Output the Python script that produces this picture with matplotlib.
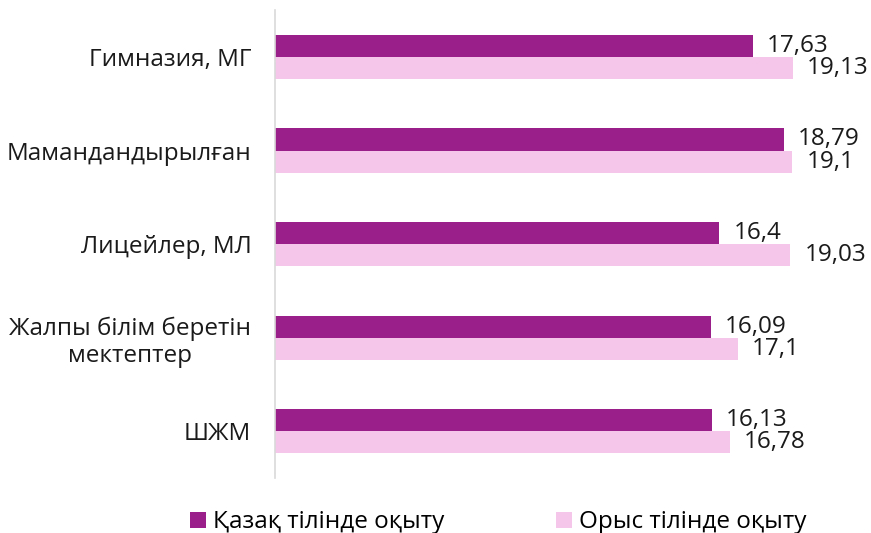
import numpy as np
import matplotlib
matplotlib.use("Agg")
import matplotlib.pyplot as plt

plt.rcParams['font.family'] = ['Open Sans', 'DejaVu Sans']

categories = ['Гимназия, МГ', 'Мамандандырылған', 'Лицейлер, МЛ',
              'Жалпы білім беретін\nмектептер', 'ШЖМ']
kazakh = [17.63, 18.79, 16.4, 16.09, 16.13]
russian = [19.13, 19.1, 19.03, 17.1, 16.78]
kazakh_labels = ['17,63', '18,79', '16,4', '16,09', '16,13']
russian_labels = ['19,13', '19,1', '19,03', '17,1', '16,78']
series_names = ['Қазақ тілінде оқыту', 'Орыс тілінде оқыту']

dark = '#9B1F8A'
light = '#F5C5EA'
fs = 17.5

fig = plt.figure(figsize=(8.71, 5.33), dpi=100)
ax = fig.add_axes([0.3157, 0.103, 0.622, 0.878])

y = np.arange(len(categories))
h = 0.236
b1 = ax.barh(y - h / 2, kazakh, height=h, color=dark, label=series_names[0])
b2 = ax.barh(y + h / 2, russian, height=h, color=light, label=series_names[1])

# value labels
for bars, labels in ((b1, kazakh_labels), (b2, russian_labels)):
    for bar, lab in zip(bars, labels):
        ax.text(bar.get_width() + 0.52, bar.get_y() + bar.get_height() / 2, lab,
                va='center', ha='left', fontsize=fs, color='#1a1a1a')

ax.set_xlim(0, 20)
ax.set_ylim(len(categories) - 0.5, -0.5)
ax.set_yticks(y)
ax.set_yticklabels(categories, fontsize=fs, color='#1a1a1a', multialignment='center')
ax.tick_params(axis='y', length=0, pad=17)
ax.set_xticks([])

for side in ('top', 'right', 'bottom'):
    ax.spines[side].set_visible(False)
ax.spines['left'].set_color('#D9D9D9')
ax.spines['left'].set_linewidth(1.2)

fig.legend(handles=[b1, b2], labels=series_names, loc='center',
           bbox_to_anchor=(0.572, 0.02), ncol=2, frameon=False, fontsize=fs,
           handlelength=0.65, handleheight=0.65, handletextpad=0.3,
           columnspacing=4.6, borderpad=0)

fig.savefig('out.png', dpi=100)
